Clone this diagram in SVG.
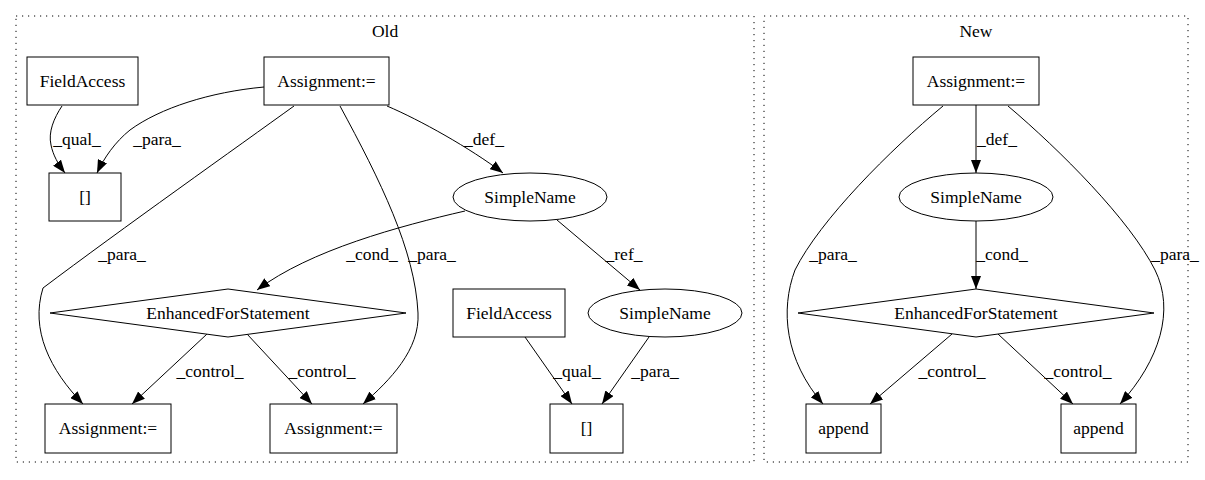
<svg xmlns="http://www.w3.org/2000/svg" width="1205" height="480" viewBox="0 0 1205 480">
<style>
text{font-family:"Liberation Serif","Times New Roman",serif;font-size:17.5px;fill:#000;text-anchor:middle}
.n{fill:#fff;stroke:#000;stroke-width:1}
.c{fill:none;stroke:#000;stroke-width:1;stroke-dasharray:1.2,4.8}
.e{fill:none;stroke:#000;stroke-width:1;marker-end:url(#ah)}
</style>
<defs>
<marker id="ah" markerUnits="userSpaceOnUse" markerWidth="13" markerHeight="10" refX="13" refY="5" orient="auto">
<path d="M0,0 L13,5 L0,10 z" fill="#000"/>
</marker>
</defs>
<rect width="1205" height="480" fill="#fff"/>
<g id="cluster_old">
<rect class="c" x="16" y="16" width="738" height="446"/>
<text x="385" y="37">Old</text>
</g>
<g id="cluster_new">
<rect class="c" x="764" y="16" width="424" height="446"/>
<text x="976" y="37">New</text>
</g>
<g id="edges">
<path class="e" d="M62,106 C54,118 48,132 51,145 C53,155 58,164 65,173"/>
<text x="77" y="145">_qual_</text>
<path class="e" d="M264,87 C210,92 160,108 130,130 C115,142 104,158 97,173"/>
<text x="157" y="145">_para_</text>
<path class="e" d="M387,106 C420,120 470,148 503,173"/>
<text x="484" y="145">_def_</text>
<path class="e" d="M294,106 C240,145 120,230 43,288 C30,330 50,370 83,404"/>
<text x="122" y="260">_para_</text>
<path class="e" d="M340,106 C380,180 415,250 418,313 C420,350 390,380 363,404"/>
<text x="432" y="260">_para_</text>
<path class="e" d="M465,211 C400,226 310,250 257,290"/>
<text x="372" y="260">_cond_</text>
<path class="e" d="M557,220 L640,290"/>
<text x="624" y="260">_ref_</text>
<path class="e" d="M207,334 L132,404"/>
<text x="210" y="377">_control_</text>
<path class="e" d="M247,334 L312,404"/>
<text x="322" y="377">_control_</text>
<path class="e" d="M525,337 L572,404"/>
<text x="577" y="377">_qual_</text>
<path class="e" d="M649,337 L602,404"/>
<text x="655" y="377">_para_</text>
<path class="e" d="M976,105 L976,173"/>
<text x="997" y="145">_def_</text>
<path class="e" d="M976,221 L976,289"/>
<text x="1002" y="260">_cond_</text>
<path class="e" d="M943,106 C890,150 820,220 795,270 C780,310 785,360 823,404"/>
<text x="833" y="260">_para_</text>
<path class="e" d="M1008,106 C1060,150 1130,220 1155,270 C1175,310 1160,360 1120,404"/>
<text x="1175" y="260">_para_</text>
<path class="e" d="M952,334 L870,404"/>
<text x="952" y="377">_control_</text>
<path class="e" d="M998,334 L1073,404"/>
<text x="1078" y="377">_control_</text>
</g>
<g id="old_fieldaccess1"><rect class="n" x="27" y="57" width="111" height="48"/><text x="82.5" y="87">FieldAccess</text></g>
<g id="old_index1"><rect class="n" x="49" y="173" width="72" height="48"/><text x="85" y="203">[]</text></g>
<g id="old_assign_top"><rect class="n" x="264" y="57" width="125" height="48"/><text x="326.5" y="87">Assignment:=</text></g>
<g id="old_simplename1"><ellipse class="n" cx="530" cy="197" rx="77" ry="24"/><text x="530" y="203">SimpleName</text></g>
<g id="old_efs"><polygon class="n" points="228,289 406,313 228,337 50,313"/><text x="228" y="319">EnhancedForStatement</text></g>
<g id="old_assign_bl"><rect class="n" x="45" y="404" width="126" height="49"/><text x="108" y="434">Assignment:=</text></g>
<g id="old_assign_bm"><rect class="n" x="270" y="404" width="127" height="49"/><text x="333.5" y="434">Assignment:=</text></g>
<g id="old_fieldaccess2"><rect class="n" x="453" y="289" width="112" height="48"/><text x="509" y="319">FieldAccess</text></g>
<g id="old_simplename2"><ellipse class="n" cx="665" cy="313" rx="77" ry="24"/><text x="665" y="319">SimpleName</text></g>
<g id="old_index2"><rect class="n" x="550" y="404" width="73" height="49"/><text x="586.5" y="434">[]</text></g>
<g id="new_assign"><rect class="n" x="913" y="57" width="126" height="48"/><text x="976" y="87">Assignment:=</text></g>
<g id="new_simplename"><ellipse class="n" cx="976" cy="197" rx="77" ry="24"/><text x="976" y="203">SimpleName</text></g>
<g id="new_efs"><polygon class="n" points="976,289 1154,313 976,337 798,313"/><text x="976" y="319">EnhancedForStatement</text></g>
<g id="new_append1"><rect class="n" x="806" y="404" width="75" height="49"/><text x="843.5" y="434">append</text></g>
<g id="new_append2"><rect class="n" x="1061" y="404" width="75" height="49"/><text x="1098.5" y="434">append</text></g>
</svg>
